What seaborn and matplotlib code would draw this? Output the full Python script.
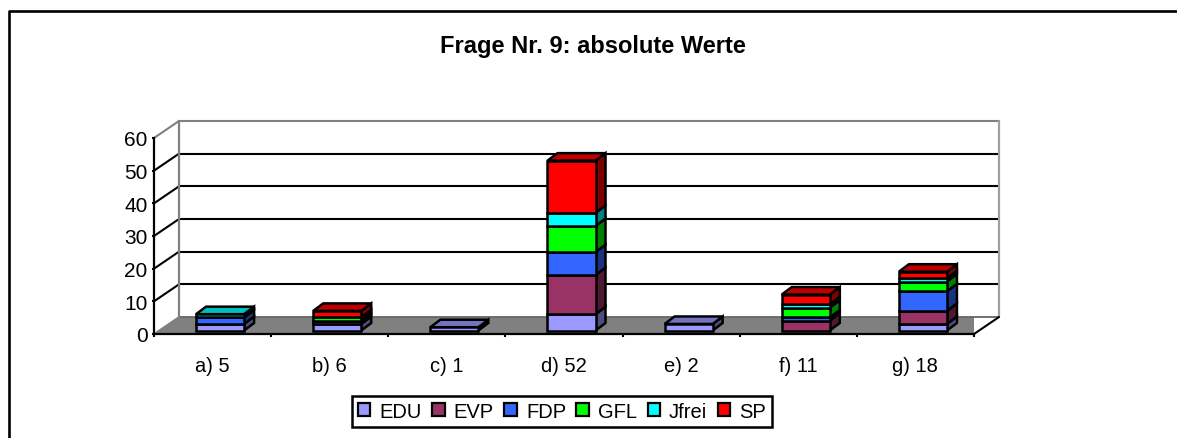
import numpy as np
import pandas as pd
import matplotlib
matplotlib.use("Agg")
import matplotlib.pyplot as plt
from matplotlib.lines import Line2D
from matplotlib.patches import Patch
from matplotlib.transforms import Affine2D
import seaborn as sns

# datos
categorias = ["a) 5", "b) 6", "c) 1", "d) 52", "e) 2", "f) 11", "g) 18"]
edu = [2, 2, 1, 5, 2, 0, 2]
evp = [0, 1, 0, 12, 0, 3, 4]
fdp = [2, 0, 0, 7, 0, 1, 6]
gfl = [0, 1, 0, 8, 0, 3, 3]
jfrei = [1, 0, 0, 4, 0, 1, 1]
sp = [0, 2, 0, 16, 0, 3, 2]
partidos = ["EDU", "EVP", "FDP", "GFL", "Jfrei", "SP"]
colores = ["#9999ff", "#993366", "#3366ff", "#00ff00", "#00ffff", "#ff0000"]
titulo = "Frage Nr. 9: absolute Werte"

df = pd.DataFrame(dict(zip(partidos, [edu, evp, fdp, gfl, jfrei, sp])), index=categorias)

W, H = 1177, 439
sns.set_theme(style="white")
plt.rcParams["font.family"] = ["Liberation Sans", "DejaVu Sans"]

fig = plt.figure(figsize=(W / 100, H / 100), dpi=100)
x0, x1, y0, y60 = 154, 974, 335, 139
ax = fig.add_axes([x0 / W, 1 - y0 / H, (x1 - x0) / W, (y0 - y60) / H])
ax.patch.set_alpha(0)

px_x = (x1 - x0) / 7      # pixeles por categoria
px_y = (y0 - y60) / 60    # pixeles por unidad
fondo_dx, fondo_dy = 25, 17
barra_dx, barra_dy = 7.5, 3.5
prof_dx, prof_dy = 10, 7.5


def sombra(color, f):
    rgb = np.array(matplotlib.colors.to_rgb(color))
    return tuple(rgb * f)


# pared del fondo y suelo
ax.fill([-0.5, 6.5, 6.5 + fondo_dx / px_x, -0.5 + fondo_dx / px_x],
        [0, 0, fondo_dy / px_y, fondo_dy / px_y], color="#808080", lw=0, zorder=1)
fx = -0.5 + fondo_dx / px_x
fx2 = 6.5 + fondo_dx / px_x
fy = fondo_dy / px_y
for v in range(0, 70, 10):
    c = "#808080" if v == 60 else "black"
    if v == 0:
        ax.plot([fx, fx2], [v + fy, v + fy], color="#666666", lw=1.3, zorder=2, clip_on=False)
        ax.plot([-0.5, fx], [v, v + fy], color="#808080", lw=1.3, zorder=2, clip_on=False)
        continue
    ax.plot([fx, fx2], [v + fy, v + fy], color=c, lw=1.5, zorder=2, clip_on=False)
    ax.plot([-0.5, fx], [v, v + fy], color=c, lw=1.5, zorder=2, clip_on=False)
ax.plot([fx, fx], [fy, 60 + fy], color="#808080", lw=1.6, zorder=2, clip_on=False)
ax.plot([fx2, fx2], [fy, 60 + fy], color="#a0a0a0", lw=1.6, zorder=2, clip_on=False)
ax.plot([6.5, fx2], [0, fy], color="black", lw=1.5, zorder=2, clip_on=False)

# barras apiladas
base = np.zeros(len(categorias))
desplaza = ax.transData + Affine2D().translate(barra_dx, barra_dy)
total = df.sum(axis=1).values
for partido, color in zip(partidos, colores):
    vals = df[partido].values
    n_antes = len(ax.patches)
    sns.barplot(x=categorias, y=vals, bottom=base, color=color, saturation=1, width=0.41,
                errorbar=None, edgecolor="black", linewidth=1.8, zorder=4, ax=ax)
    for i, bar in enumerate(ax.patches[n_antes:]):
        if vals[i] == 0:
            bar.set_visible(False)
            continue
        bar.set_transform(desplaza)
        xa = bar.get_x()
        xb = xa + bar.get_width()
        ya = bar.get_y()
        yb = ya + bar.get_height()
        dx = prof_dx / px_x
        dy = prof_dy / px_y
        ax.fill([xb, xb + dx, xb + dx, xb], [ya, ya + dy, yb + dy, yb], facecolor=sombra(color, 0.5),
                edgecolor="black", lw=1.8, zorder=3.5, transform=desplaza, clip_on=False)
        if base[i] + vals[i] == total[i]:
            ax.fill([xa, xb, xb + dx, xa + dx], [yb, yb, yb + dy, yb + dy], facecolor=sombra(color, 0.75),
                    edgecolor="black", lw=1.8, zorder=3.5, transform=desplaza, clip_on=False)
    base = base + vals

# ejes
ax.set_xlim(-0.5, 6.5)
ax.set_ylim(0, 60)
ax.set_yticks(range(0, 70, 10))
ax.set_xticks(range(7))
ax.set_xticklabels(categorias)
ax.set_xticks(np.arange(-0.5, 7), minor=True)
ax.tick_params(axis="x", which="major", length=0, labelsize=14.5, pad=16, colors="black")
ax.tick_params(axis="x", which="minor", length=2.5, width=1.5, color="black", bottom=True)
ax.tick_params(axis="y", length=1.5, width=1.5, labelsize=15, pad=3, colors="black", left=True)
for lado in ["top", "right"]:
    ax.spines[lado].set_visible(False)
for lado in ["left", "bottom"]:
    ax.spines[lado].set_color("black")
    ax.spines[lado].set_linewidth(1.6)
    ax.spines[lado].set_zorder(5)
ax.set_xlabel("")
ax.set_ylabel("")

fig.text(593 / W, 1 - 46 / H, titulo, ha="center", va="center", fontsize=17, fontweight="bold", color="black")

# leyenda
handles = [Patch(facecolor=c, edgecolor="black", lw=1.6, label=p) for p, c in zip(partidos, colores)]
fig.legend(handles=handles, ncol=6, loc="center", bbox_to_anchor=(562 / W, 1 - 412.5 / H), frameon=True,
           fancybox=False, edgecolor="black", framealpha=1, fontsize=14.5, handlelength=0.62, handleheight=0.62,
           handletextpad=0.45, columnspacing=0.52, borderpad=0.3, borderaxespad=0, labelcolor="black")
fig.legends[0].get_frame().set_linewidth(1.8)

# marco exterior, cortado por la imagen
fig.add_artist(Line2D([9 / W, 9 / W, 1], [0, 1 - 11.5 / H, 1 - 11.5 / H], color="black", lw=1.9))

fig.savefig("out.png", dpi=100)
